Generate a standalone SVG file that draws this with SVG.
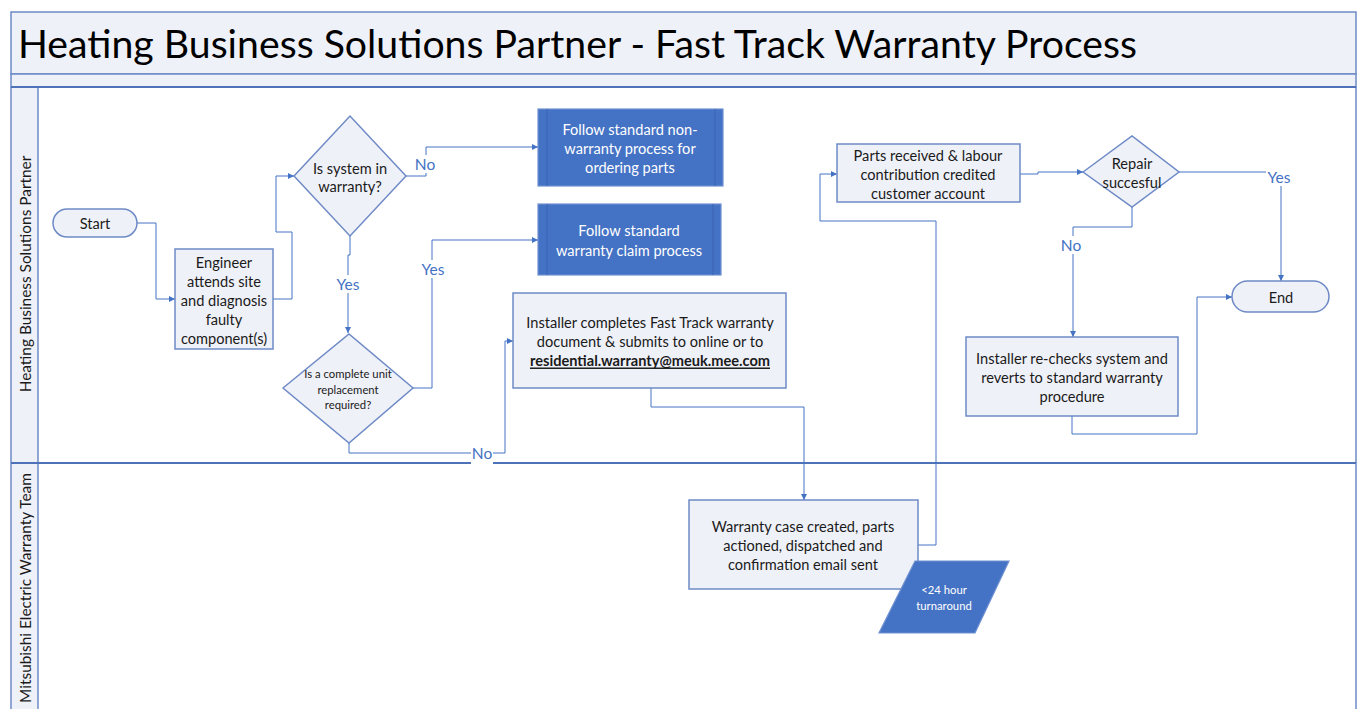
<svg xmlns="http://www.w3.org/2000/svg" width="1365" height="709" viewBox="0 0 1365 709">
<style>
.frame{fill:none;stroke:#6E8AC6;stroke-width:1.5}
.band{fill:#EFF1F8;stroke:#6E8AC6;stroke-width:1.5}
.lane{stroke:#4E72B8;stroke-width:2}
.node{fill:#EFF1F8;stroke:#6E8AC6;stroke-width:1.5}
.dark{fill:#4472C4;stroke:#6F90D2;stroke-width:1.2}
.inner{stroke:#3A64B0;stroke-width:1}
.t{font-family:Lato,"Open Sans","Liberation Sans",sans-serif;font-size:14.6px;fill:#1a1a1a;text-anchor:middle;dominant-baseline:central}
.w{fill:#ffffff}
.s{font-size:11.3px}
.ln{font-size:15.4px}
.lbl{font-family:Lato,"Open Sans","Liberation Sans",sans-serif;font-size:15.5px;fill:#4472C4;text-anchor:middle;dominant-baseline:central}
.conn{fill:none;stroke:#4472C4;stroke-width:1;stroke-linejoin:round}
.lbg{fill:#ffffff}
</style>
<defs>
<marker id="arr" viewBox="0 0 10 10" refX="10" refY="5" markerWidth="6" markerHeight="6" orient="auto" markerUnits="userSpaceOnUse">
<path d="M0,0 L10,5 L0,10 z" fill="#4472C4"/>
</marker>
</defs>
<rect x="0" y="0" width="1365" height="709" fill="#ffffff"/>
<g id="pool">
<rect class="band" x="11" y="12" width="1345" height="62"/>
<rect class="band" x="11" y="74" width="1345" height="13"/>
<rect x="11" y="87" width="27" height="630" fill="#EFF1F8"/>
<line class="frame" x1="11" y1="87" x2="11" y2="712"/>
<line class="frame" x1="38" y1="87" x2="38" y2="712"/>
<line class="frame" x1="1356" y1="87" x2="1356" y2="712"/>
<line class="lane" x1="11" y1="87" x2="1356" y2="87"/>
<line class="lane" x1="11" y1="463" x2="1356" y2="463"/>
<text x="18" y="43" font-family="Lato,'Open Sans','Liberation Sans',sans-serif" font-size="38" fill="#000000" dominant-baseline="central" textLength="1119" lengthAdjust="spacingAndGlyphs">Heating Business Solutions Partner - Fast Track Warranty Process</text>
<text class="t ln" transform="translate(25,274) rotate(-90)" x="0" y="0">Heating Business Solutions Partner</text>
<text class="t ln" transform="translate(25,588) rotate(-90)" x="0" y="0">Mitsubishi Electric Warranty Team</text>
</g>
<g id="connectors">
<path class="conn" d="M137,223 H156 V299 H175" marker-end="url(#arr)"/>
<path class="conn" d="M273,299 H292 V232 H276 V176 H294" marker-end="url(#arr)"/>
<path class="conn" d="M406,176 H426 V147 H538" marker-end="url(#arr)"/>
<path class="conn" d="M350,236 V255 H348 V333" marker-end="url(#arr)"/>
<path class="conn" d="M413,388 H432 V240 H538" marker-end="url(#arr)"/>
<path class="conn" d="M349,443 V453 H505 V341 H513" marker-end="url(#arr)"/>
<path class="conn" d="M651,388 V407 H804 V500" marker-end="url(#arr)"/>
<path class="conn" d="M918,545 H936 V221 H820 V174 H837" marker-end="url(#arr)"/>
<path class="conn" d="M1020,174 H1038 V172 H1083" marker-end="url(#arr)"/>
<path class="conn" d="M1179,172 H1281 V281" marker-end="url(#arr)"/>
<path class="conn" d="M1132,207 V227 H1073 V337" marker-end="url(#arr)"/>
<path class="conn" d="M1072,416 V434 H1197 V297 H1232" marker-end="url(#arr)"/>
<rect class="lbg" x="413" y="155" width="24" height="18"/>
<text class="lbl" x="425" y="164">No</text>
<rect class="lbg" x="335" y="275" width="27" height="18"/>
<text class="lbl" x="348" y="284">Yes</text>
<rect class="lbg" x="419" y="260" width="27" height="18"/>
<text class="lbl" x="433" y="269">Yes</text>
<rect class="lbg" x="471" y="444" width="22" height="20"/>
<text class="lbl" x="482" y="453">No</text>
<rect class="lbg" x="1266" y="168" width="27" height="18"/>
<text class="lbl" x="1279" y="177">Yes</text>
<rect class="lbg" x="1060" y="236" width="24" height="18"/>
<text class="lbl" x="1071" y="245">No</text>
</g>
<g id="start">
<rect class="node" x="53" y="209" width="84" height="28" rx="14"/>
<text class="t" x="95" y="223">Start</text>
</g>
<g id="engineer">
<rect class="node" x="175" y="249" width="98" height="100"/>
<text class="t" x="224" y="262">Engineer</text>
<text class="t" x="224" y="281">attends site</text>
<text class="t" x="224" y="300">and diagnosis</text>
<text class="t" x="224" y="319">faulty</text>
<text class="t" x="224" y="338">component(s)</text>
</g>
<g id="in-warranty">
<polygon class="node" points="294,176 350,116 406,176 350,236"/>
<text class="t" x="350" y="168">Is system in</text>
<text class="t" x="350" y="186">warranty?</text>
</g>
<g id="non-warranty">
<rect class="dark" x="538" y="109" width="185" height="77"/>
<line class="inner" x1="547" y1="109" x2="547" y2="186"/>
<line class="inner" x1="715" y1="109" x2="715" y2="186"/>
<text class="t w" x="630" y="129">Follow standard non-</text>
<text class="t w" x="630" y="148">warranty process for</text>
<text class="t w" x="630" y="167">ordering parts</text>
</g>
<g id="warranty-claim">
<rect class="dark" x="538" y="204" width="183" height="71"/>
<line class="inner" x1="547" y1="204" x2="547" y2="275"/>
<line class="inner" x1="713" y1="204" x2="713" y2="275"/>
<text class="t w" x="629" y="230">Follow standard</text>
<text class="t w" x="629" y="250">warranty claim process</text>
</g>
<g id="unit-replacement">
<polygon class="node" points="283,388 349,334 413,388 349,443"/>
<text class="t s" x="348" y="373">Is a complete unit</text>
<text class="t s" x="348" y="389">replacement</text>
<text class="t s" x="348" y="404">required?</text>
</g>
<g id="installer-completes">
<rect class="node" x="513" y="293" width="273" height="95"/>
<text class="t" x="650" y="322">Installer completes Fast Track warranty</text>
<text class="t" x="650" y="341">document &amp; submits to online or to</text>
<text class="t" x="650" y="360" font-weight="bold" text-decoration="underline">residential.warranty@meuk.mee.com</text>
</g>
<g id="warranty-case">
<rect class="node" x="689" y="500" width="229" height="89"/>
<text class="t" x="803" y="526">Warranty case created, parts</text>
<text class="t" x="803" y="545">actioned, dispatched and</text>
<text class="t" x="803" y="564">confirmation email sent</text>
</g>
<g id="turnaround">
<polygon class="dark" points="915,561 1009,561 975,633 879,633"/>
<text class="t w s" x="944" y="589">&lt;24 hour</text>
<text class="t w s" x="944" y="605">turnaround</text>
</g>
<g id="parts-received">
<rect class="node" x="837" y="144" width="183" height="58"/>
<text class="t" x="928" y="155">Parts received &amp; labour</text>
<text class="t" x="928" y="174">contribution credited</text>
<text class="t" x="928" y="193">customer account</text>
</g>
<g id="repair">
<polygon class="node" points="1083,172 1132,136 1179,172 1132,207"/>
<text class="t" x="1132" y="163">Repair</text>
<text class="t" x="1132" y="182">succesful</text>
</g>
<g id="end">
<rect class="node" x="1232" y="281" width="97" height="31" rx="15.5"/>
<text class="t" x="1281" y="297">End</text>
</g>
<g id="recheck">
<rect class="node" x="966" y="337" width="212" height="79"/>
<text class="t" x="1072" y="358">Installer re-checks system and</text>
<text class="t" x="1072" y="377">reverts to standard warranty</text>
<text class="t" x="1072" y="396">procedure</text>
</g>
</svg>
